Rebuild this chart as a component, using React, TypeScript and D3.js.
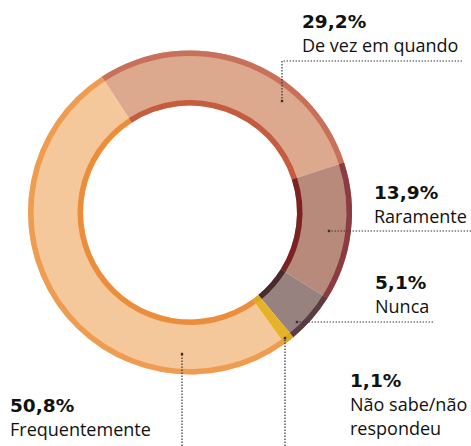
import React, { useEffect, useRef } from "react";
import * as d3 from "d3";

// slices in drawing order, clockwise from the upper left
const categories = ["De vez em quando", "Raramente", "Nunca", "Não sabe/não respondeu", "Frequentemente"];
const values = [29.2, 13.9, 5.1, 1.1, 50.8];
const valueLabels = ["29,2%", "13,9%", "5,1%", "1,1%", "50,8%"];
const labelLines = [["De vez em quando"], ["Raramente"], ["Nunca"], ["Não sabe/não", "respondeu"], ["Frequentemente"]];

const fills = ["#DDA98E", "#B88A7B", "#98827F", "#E6B328", "#F5C89B"];
const outerStrokes = ["#C9705A", "#8C3B40", "#5A3D41", "#DCA823", "#EF9C50"];
const innerStrokes = ["#C65B3E", "#7C2223", "#4A2A2C", "#DCA823", "#EC8D3B"];

// label layout: text anchor point and leader line path
const labelPos = [
  { x: 302, y: 28, leader: [[462, 61], [282, 61], [282, 101]] },
  { x: 374, y: 199, leader: [[471, 231], [329, 231]] },
  { x: 375, y: 289, leader: [[433, 322], [297, 322]] },
  { x: 350, y: 387, leader: [[285, 446], [285, 338]] },
  { x: 10, y: 412, leader: [[182, 446], [182, 354]] },
];

const App: React.FC = () => {
  const ref = useRef<SVGSVGElement>(null);

  useEffect(() => {
    const svg = d3.select(ref.current);
    svg.selectAll("*").remove();

    const cx = 190;
    const cy = 212.5;
    const rOuter = 162;
    const rInner = 107;
    const sw = 5.5;
    const start = (-33 * Math.PI) / 180;

    const pie = d3.pie<number>().sort(null).value((d) => d).startAngle(start).endAngle(start + 2 * Math.PI);
    const arcs = pie(values);

    const g = svg.append("g").attr("transform", `translate(${cx},${cy})`);

    const band = d3.arc<d3.PieArcDatum<number>>().innerRadius(rInner).outerRadius(rOuter);
    const outerRing = d3.arc<d3.PieArcDatum<number>>().innerRadius(rOuter - sw).outerRadius(rOuter);
    const innerRing = d3.arc<d3.PieArcDatum<number>>().innerRadius(rInner).outerRadius(rInner + sw);

    g.selectAll("path.band").data(arcs).enter().append("path")
      .attr("class", "band")
      .attr("d", (d) => band(d) || "")
      .attr("fill", (d, i) => fills[i]);

    g.selectAll("path.outer").data(arcs).enter().append("path")
      .attr("class", "outer")
      .attr("d", (d) => outerRing(d) || "")
      .attr("fill", (d, i) => outerStrokes[i]);

    g.selectAll("path.inner").data(arcs).enter().append("path")
      .attr("class", "inner")
      .attr("d", (d) => innerRing(d) || "")
      .attr("fill", (d, i) => innerStrokes[i]);

    const line = d3.line();
    labelPos.forEach((p, i) => {
      svg.append("path")
        .attr("d", line(p.leader as [number, number][]) || "")
        .attr("fill", "none")
        .attr("stroke", "#333")
        .attr("stroke-width", 1.2)
        .attr("stroke-dasharray", "1.4,1.6");
      const end = p.leader[p.leader.length - 1];
      svg.append("rect")
        .attr("x", end[0] - 1.2)
        .attr("y", end[1] - 1.2)
        .attr("width", 2.4)
        .attr("height", 2.4)
        .attr("fill", "#333");

      const t = svg.append("text").attr("fill", "#111");
      t.append("tspan")
        .attr("x", p.x)
        .attr("y", p.y)
        .attr("font-family", "'DejaVu Sans', sans-serif")
        .attr("font-weight", 700)
        .attr("font-size", 18.5)
        .text(valueLabels[i]);
      labelLines[i].forEach((s, j) => {
        t.append("tspan")
          .attr("x", p.x)
          .attr("y", p.y + 24 + j * 23.5)
          .attr("font-family", "'Open Sans', sans-serif")
          .attr("font-size", 18)
          .text(s);
      });
    });
  }, []);

  return (
    <svg ref={ref} width={471} height={446} style={{ position: "absolute", left: 0, top: 0 }} />
  );
};

export default App;
